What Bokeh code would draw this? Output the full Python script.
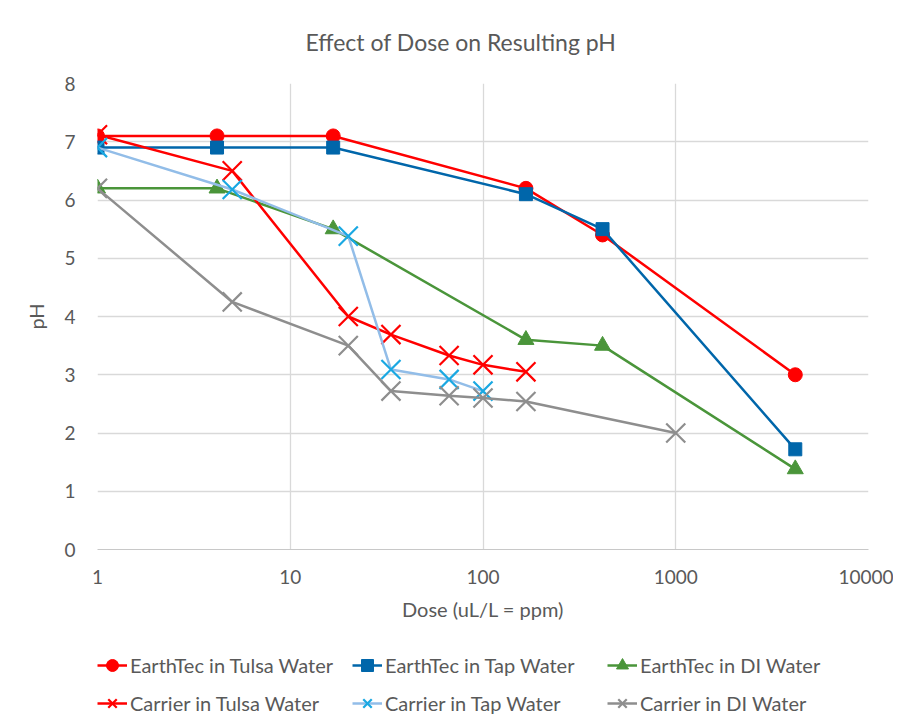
from bokeh.plotting import figure
from bokeh.layouts import column
from bokeh.models import Legend, LegendItem, FixedTicker, NumeralTickFormatter, Range1d
from bokeh.embed import file_html
from bokeh.resources import INLINE

# ---- data ----
dose_earthtec = [1, 4.17, 16.7, 167, 417, 4170]
ph_earthtec_tulsa = [7.1, 7.1, 7.1, 6.2, 5.4, 3.0]
ph_earthtec_tap = [6.9, 6.9, 6.9, 6.1, 5.5, 1.72]
ph_earthtec_di = [6.2, 6.2, 5.5, 3.6, 3.5, 1.38]

dose_carrier_tulsa = [1, 5, 20, 33.3, 66.7, 100, 167]
ph_carrier_tulsa = [7.12, 6.5, 4.0, 3.69, 3.33, 3.17, 3.05]
dose_carrier_tap = [1, 5, 20, 33.3, 66.7, 100]
ph_carrier_tap = [6.9, 6.18, 5.38, 3.09, 2.92, 2.72]
dose_carrier_di = [1, 5, 20, 33.3, 66.7, 100, 167, 1000]
ph_carrier_di = [6.2, 4.25, 3.5, 2.72, 2.64, 2.6, 2.54, 2.0]

x_ticks = [1, 10, 100, 1000, 10000]
y_ticks = [0, 1, 2, 3, 4, 5, 6, 7, 8]

FONT = "Lato"
TXT = "#595959"
GRID = "#D9D9D9"

p = figure(width=893, height=629,
           x_axis_type="log", x_range=Range1d(1, 10000), y_range=Range1d(0, 8),
           output_backend="svg", toolbar_location=None,
           min_border_left=97, min_border_right=25, min_border_top=83, min_border_bottom=80,
           title="Effect of Dose on Resulting pH")
p.outline_line_color = None
p.background_fill_color = "white"
p.border_fill_color = "white"

p.title.text_font = FONT
p.title.text_font_size = "23px"
p.title.text_font_style = "normal"
p.title.text_color = TXT
p.title.align = "left"
p.title.offset = 208
p.title.vertical_align = "top"
p.title.standoff = 52

# axes
p.xaxis.ticker = FixedTicker(ticks=x_ticks, minor_ticks=[])
p.xaxis.formatter = NumeralTickFormatter(format="0")
p.yaxis.ticker = FixedTicker(ticks=y_ticks, minor_ticks=[])
for ax in (p.xaxis[0], p.yaxis[0]):
    ax.major_tick_line_color = None
    ax.minor_tick_line_color = None
    ax.major_label_text_font = FONT
    ax.major_label_text_font_size = "19px"
    ax.major_label_text_color = TXT
    ax.axis_label_text_font = FONT
    ax.axis_label_text_font_size = "20px"
    ax.axis_label_text_font_style = "normal"
    ax.axis_label_text_color = TXT
p.xaxis.axis_label = "Dose (uL/L = ppm)"
p.yaxis.axis_label = "pH"
p.xaxis.axis_line_color = "#C8C8C8"
p.yaxis.axis_line_color = None
p.xaxis.major_label_standoff = 14
p.xaxis.axis_label_standoff = 10
p.yaxis.major_label_standoff = 16
p.yaxis.axis_label_standoff = 13

p.xgrid.grid_line_color = GRID
p.ygrid.grid_line_color = GRID
p.xgrid.grid_line_width = 1.3
p.ygrid.grid_line_width = 1.3

LW = 2.5
series = [
    ("EarthTec in Tulsa Water", dose_earthtec, ph_earthtec_tulsa, "#FF0000", "circle", "#FF0000", 14),
    ("EarthTec in Tap Water", dose_earthtec, ph_earthtec_tap, "#0066AA", "square", "#0066AA", 13),
    ("EarthTec in DI Water", dose_earthtec, ph_earthtec_di, "#4A953A", "triangle", "#4A953A", 16),
    ("Carrier in Tulsa Water", dose_carrier_tulsa, ph_carrier_tulsa, "#FF0000", "x", "#FF0000", 27),
    ("Carrier in Tap Water", dose_carrier_tap, ph_carrier_tap, "#92BDE8", "x", "#1AA8E2", 27),
    ("Carrier in DI Water", dose_carrier_di, ph_carrier_di, "#8E8E8E", "x", "#8E8E8E", 27),
]

# legend strip below the chart (its own series copies lie outside its visible range)
leg_fig = figure(width=893, height=95, x_range=Range1d(0, 1), y_range=Range1d(-10, -9),
                 output_backend="svg", toolbar_location=None,
                 x_axis_location=None, y_axis_location=None,
                 min_border_left=0, min_border_right=0, min_border_top=0, min_border_bottom=0)
leg_fig.outline_line_color = None
leg_fig.grid.visible = False
leg_fig.background_fill_color = "white"
leg_fig.border_fill_color = "white"

items = []
for name, xs, ys, lc, marker, mc, size in series:
    p.line(xs, ys, line_color=lc, line_width=LW)
    if marker == "x":
        p.scatter(xs, ys, marker="x", size=size, line_color=mc, line_width=2.2)
        ls = leg_fig.scatter(xs, ys, marker="x", size=size, line_color=mc, line_width=2.2)
    else:
        p.scatter(xs, ys, marker=marker, size=size, fill_color=mc, line_color=mc, line_width=1)
        ls = leg_fig.scatter(xs, ys, marker=marker, size=size, fill_color=mc, line_color=mc, line_width=1)
    ll = leg_fig.line(xs, ys, line_color=lc, line_width=LW)
    items.append(LegendItem(label=name, renderers=[ll, ls]))

def make_legend(its, vy):
    return Legend(items=its, location=(0, vy), orientation="horizontal",
                  glyph_width=30, glyph_height=32, label_standoff=3, label_width=222,
                  spacing=0, padding=0, margin=0,
                  label_text_font=FONT, label_text_font_size="20px", label_text_color=TXT,
                  background_fill_alpha=0, border_line_alpha=0)

leg_fig.add_layout(make_legend(items[:3], 43), "center")
leg_fig.add_layout(make_legend(items[3:], 5), "center")

layout = column(p, leg_fig, spacing=0)
open("out.html", "w").write(file_html(layout, INLINE))
